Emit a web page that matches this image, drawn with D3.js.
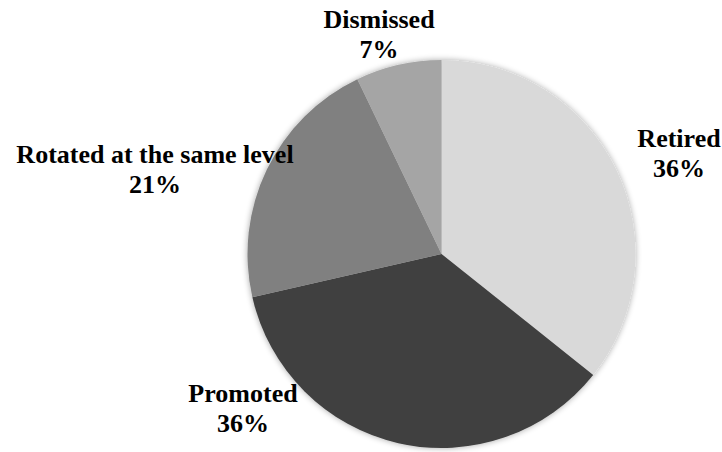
<!DOCTYPE html>
<html>
<head>
<meta charset="utf-8">
<script src="https://cdn.jsdelivr.net/npm/d3@7"></script>
<style>
  svg text { font-family: "Times New Roman", "Liberation Serif", Times, serif !important; font-weight: 700; }
</style>
</head>
<body style="margin:0">
<svg id="chart" width="722" height="452"></svg>
<script>
// Career outcomes (counts of people)
const categories = ["Retired", "Promoted", "Rotated at the same level", "Dismissed"];
const counts = [5, 5, 3, 1];
const colors = ["#d9d9d9", "#404040", "#808080", "#a5a5a5"];

// Label anchors (horizontal centre and first-line baseline of each label)
const labelAnchors = [
  { x: 679, y: 147 },
  { x: 243, y: 402 },
  { x: 155, y: 163 },
  { x: 379, y: 28 }
];

const width = 722, height = 452;
const cx = 441.5, cy = 254, radius = 194;

const svg = d3.select("#chart");

const data = categories.map((c, i) => ({ name: c, value: counts[i], color: colors[i], anchor: labelAnchors[i] }));
const total = d3.sum(counts);

const pie = d3.pie().value(d => d.value).sort(null);
const arc = d3.arc().innerRadius(0).outerRadius(radius);

// Labels
const pct = v => Math.round(v / total * 100) + "%";
const lines = data.flatMap(d => [
  { text: d.name, x: d.anchor.x, y: d.anchor.y },
  { text: pct(d.value), x: d.anchor.x, y: d.anchor.y + 30 }
]);

svg.selectAll("text")
  .data(lines)
  .join("text")
  .attr("x", d => d.x)
  .attr("y", d => d.y)
  .attr("font-family", "Times New Roman")
  .attr("font-weight", "bold")
  .attr("font-size", 26)
  .attr("text-anchor", "middle")
  .style("font-family", "'Times New Roman', 'Liberation Serif', serif")
  .text(d => d.text);

// Soft shadow around the pie
const defs = svg.append("defs");
const f = defs.append("filter").attr("id", "shadow")
  .attr("x", "-20%").attr("y", "-20%").attr("width", "140%").attr("height", "140%");
f.append("feGaussianBlur").attr("in", "SourceAlpha").attr("stdDeviation", 3).attr("result", "blur");
f.append("feComponentTransfer").attr("in", "blur").attr("result", "fade")
  .append("feFuncA").attr("type", "linear").attr("slope", 0.35);
const merge = f.append("feMerge");
merge.append("feMergeNode").attr("in", "fade");
merge.append("feMergeNode").attr("in", "SourceGraphic");

const g = svg.insert("g", "text")
  .attr("transform", `translate(${cx},${cy})`)
  .attr("filter", "url(#shadow)");

g.selectAll("path")
  .data(pie(data))
  .join("path")
  .attr("d", arc)
  .attr("fill", d => d.data.color);
</script>
</body>
</html>
